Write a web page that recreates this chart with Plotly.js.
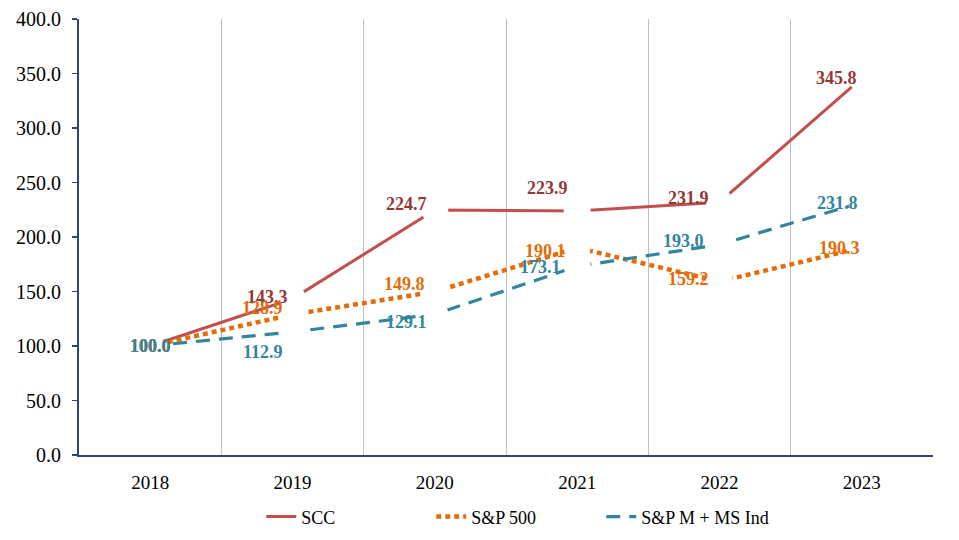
<!DOCTYPE html>
<html>
<head>
<meta charset="utf-8">
<script src="https://cdn.plot.ly/plotly-3.0.1.min.js"></script>
<style>html,body{margin:0;padding:0;background:#fff;}#chart{width:959px;height:540px;}</style>
</head>
<body>
<div id="chart"></div>
<script>
var years = ["2018", "2019", "2020", "2021", "2022", "2023"];
var scc = [100.0, 143.3, 224.7, 223.9, 231.9, 345.8];
var sp500 = [100.0, 128.9, 149.8, 190.1, 159.2, 190.3];
var spmInd = [100.0, 112.9, 129.1, 173.1, 193.0, 231.8];
var seriesNames = ["SCC", "S&P 500", "S&P M + MS Ind"];
var yTicks = [0, 50, 100, 150, 200, 250, 300, 350, 400];

var lineColors = ["#C0504D", "#E46C0A", "#31859C"];
var labelColors = ["#953735", "#E46C0A", "#31859C"];
var dashes = ["solid", "5px,4px", "14px,9px"];
var widths = [3, 4.5, 3.2];
// label offsets (screen px) relative to each point: [dx, dy] with dy positive downward
var labelShiftX = [
  [0, -25, -28, -30, -31, -25],
  [0, -30, -30, -32, -31, -22],
  [0, -30, -28, -37, -36, -24]
];
var labelShiftY = [
  [0, -2, -6, -23, -4, 0],
  [0, -7, -8, 3, -2, 0],
  [0, 20, 8, 1, -4, 1]
];
var allSeries = [scc, sp500, spmInd];
var fontFam = "Liberation Serif, serif";

var traces = [];
allSeries.forEach(function(vals, i) {
  traces.push({
    type: "scatter", mode: "lines", x: years, y: vals, name: seriesNames[i],
    line: {color: lineColors[i], width: widths[i], dash: dashes[i]},
    hoverinfo: "skip"
  });
  traces.push({
    type: "scatter", mode: "markers", x: years, y: vals, showlegend: false,
    marker: {color: "#ffffff", size: 27, line: {width: 0}},
    hoverinfo: "skip"
  });
});

var annotations = [];
allSeries.forEach(function(vals, i) {
  vals.forEach(function(v, j) {
    annotations.push({
      x: j, y: v, xref: "x", yref: "y", text: v.toFixed(1), showarrow: false,
      xanchor: "center", yanchor: "middle",
      xshift: labelShiftX[i][j], yshift: -labelShiftY[i][j],
      font: {family: fontFam, size: 18, color: labelColors[i], weight: "bold"}
    });
  });
});

var layout = {
  width: 959, height: 540,
  margin: {l: 79, r: 26, t: 19, b: 85, autoexpand: false},
  paper_bgcolor: "#ffffff", plot_bgcolor: "#ffffff",
  font: {family: fontFam, size: 19, color: "#000000"},
  showlegend: true,
  annotations: annotations,
  legend: {orientation: "h", x: 0.512, xanchor: "center", y: -0.142, yanchor: "middle",
           font: {family: fontFam, size: 18, color: "#000"}, entrywidth: 125, entrywidthmode: "pixels",
           itemwidth: 30, traceorder: "normal"},
  xaxis: {type: "category", range: [-0.5, 5.5], tickson: "boundaries", showgrid: true,
          gridcolor: "#BFBFBF", gridwidth: 1, ticks: "", showline: true, linecolor: "#2E4A6B", linewidth: 2,
          ticklabelstandoff: 9,
          tickfont: {family: fontFam, size: 19, color: "#000"}, zeroline: false, fixedrange: true},
  yaxis: {range: [0, 400], tickvals: yTicks, ticktext: yTicks.map(function(v){return v.toFixed(1);}),
          showgrid: false, zeroline: false, showline: true, linecolor: "#2E4A6B", linewidth: 2,
          ticks: "outside", ticklen: 5, tickcolor: "#2E4A6B", tickwidth: 1.5, ticklabelstandoff: 7,
          tickfont: {family: fontFam, size: 20, color: "#000"}, fixedrange: true}
};

Plotly.newPlot("chart", traces, layout, {displayModeBar: false, staticPlot: true});
</script>
</body>
</html>
